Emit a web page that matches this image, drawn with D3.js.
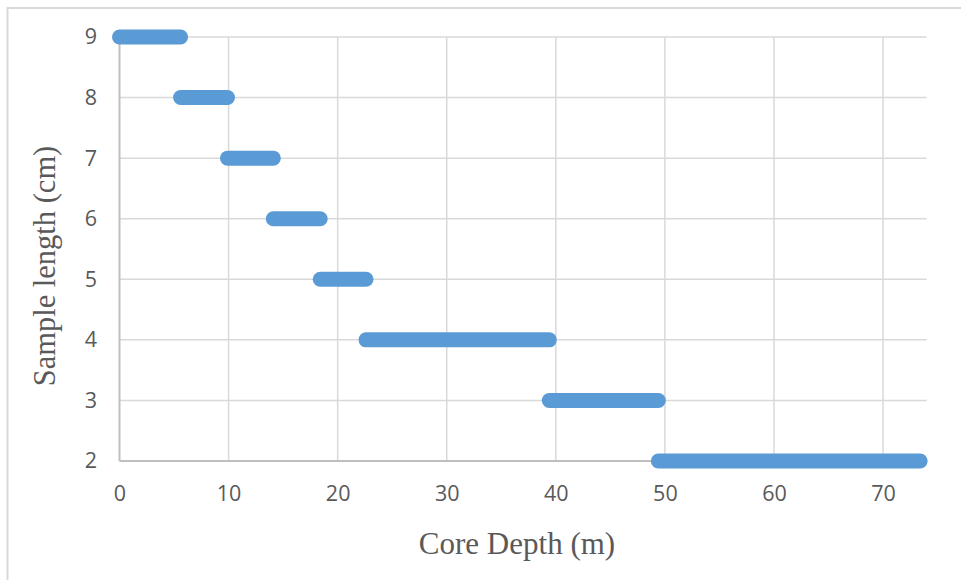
<!DOCTYPE html>
<html>
<head>
<meta charset="utf-8">
<script src="https://cdn.jsdelivr.net/npm/d3@7"></script>
<style>
  html, body { margin: 0; padding: 0; background: #fff; }
  svg { display: block; }
</style>
</head>
<body>
<svg id="chart" width="961" height="580"></svg>
<script>
// Sample length (cm) for each depth interval of the core
const sampleLength = [9, 8, 7, 6, 5, 4, 3, 2];
// Interval start and end depths (m)
const depthFrom = [0, 5.6, 9.9, 14.1, 18.4, 22.6, 39.4, 49.4];
const depthTo   = [5.6, 9.9, 14.1, 18.4, 22.6, 39.4, 49.4, 73.4];
// Axis ticks
const xTicks = [0, 10, 20, 30, 40, 50, 60, 70];
const yTicks = [2, 3, 4, 5, 6, 7, 8, 9];

const svg = d3.select("#chart");
const plotLeft = 119.5, plotRight = 926.7, plotTop = 37, plotBottom = 461;

const x = d3.scaleLinear().domain([0, 74]).range([plotLeft, plotRight]);
const y = d3.scaleLinear().domain([2, 9]).range([plotBottom, plotTop]);

// Outer chart frame
svg.append("rect")
  .attr("x", 7.5).attr("y", 8)
  .attr("width", 1000).attr("height", 1000)
  .attr("fill", "none")
  .attr("stroke", "#D9D9D9")
  .attr("stroke-width", 2);

// Gridlines
const grid = svg.append("g");
grid.selectAll("line.v").data(xTicks.filter(d => d > 0)).join("line")
  .attr("class", "v")
  .attr("x1", d => x(d)).attr("x2", d => x(d))
  .attr("y1", plotTop).attr("y2", plotBottom)
  .attr("stroke", "#D9D9D9").attr("stroke-width", 1.5);
grid.selectAll("line.h").data(yTicks.filter(d => d > 2)).join("line")
  .attr("class", "h")
  .attr("x1", plotLeft).attr("x2", plotRight)
  .attr("y1", d => y(d)).attr("y2", d => y(d))
  .attr("stroke", "#D9D9D9").attr("stroke-width", 1.5);

// Axes
const xAxis = svg.append("g")
  .attr("transform", `translate(0,${plotBottom})`)
  .call(d3.axisBottom(x).tickValues(xTicks).tickSize(0).tickPadding(25).tickFormat(d3.format("d")));
const yAxis = svg.append("g")
  .attr("transform", `translate(${plotLeft},0)`)
  .call(d3.axisLeft(y).tickValues(yTicks).tickSize(0).tickPadding(22.5).tickFormat(d3.format("d")));

[xAxis, yAxis].forEach(a => {
  a.select(".domain").attr("stroke", "#BFBFBF").attr("stroke-width", 2);
  a.selectAll("text")
    .attr("fill", "#595959")
    .style("font-family", "'Open Sans', 'Noto Sans', sans-serif")
    .style("font-size", "21.5px");
});
xAxis.select(".domain").attr("d", `M${plotLeft},0H${plotRight}`);
yAxis.select(".domain").attr("d", `M0,${plotBottom}V${plotTop}`);

// Interval bars
svg.append("g").selectAll("line").data(sampleLength).join("line")
  .attr("x1", (d, i) => x(depthFrom[i]))
  .attr("x2", (d, i) => x(depthTo[i]))
  .attr("y1", d => y(d)).attr("y2", d => y(d))
  .attr("stroke", "#5B9BD5")
  .attr("stroke-width", 15)
  .attr("stroke-linecap", "round");

// Axis titles
svg.append("text")
  .attr("x", 517).attr("y", 554)
  .attr("text-anchor", "middle")
  .attr("fill", "#595959")
  .style("font-family", "'Liberation Serif', 'Times New Roman', serif")
  .style("font-size", "31px")
  .text("Core Depth (m)");

svg.append("text")
  .attr("transform", "translate(55,266) rotate(-90)")
  .attr("text-anchor", "middle")
  .attr("fill", "#595959")
  .style("font-family", "'Liberation Serif', 'Times New Roman', serif")
  .style("font-size", "30.5px")
  .text("Sample length (cm)");
</script>
</body>
</html>
